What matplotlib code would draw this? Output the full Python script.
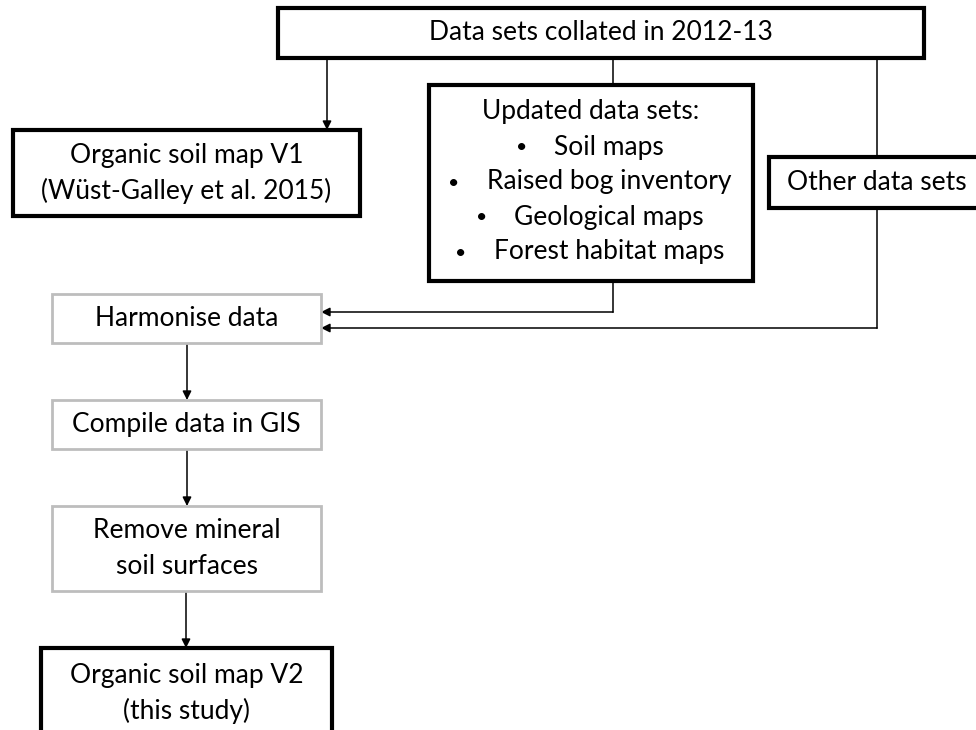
import matplotlib.pyplot as plt
from matplotlib.patches import Rectangle

plt.rcParams['font.family'] = ['Lato', 'DejaVu Sans']

# Тексты блоков схемы
top_label = ['Data sets collated in 2012-13']
v1_label = ['Organic soil map V1', '(Wüst-Galley et al. 2015)']
updated_title = 'Updated data sets:'
updated_items = ['Soil maps', 'Raised bog inventory', 'Geological maps', 'Forest habitat maps']
other_label = ['Other data sets']
harmonise_label = ['Harmonise data']
compile_label = ['Compile data in GIS']
remove_label = ['Remove mineral', 'soil surfaces']
v2_label = ['Organic soil map V2', '(this study)']

# Расположение блоков: (x0, y0, x1, y1) в пикселях, стиль
layout = {
    'top': (278, 8, 924, 58, 'bold'),
    'v1': (13, 130, 360, 216, 'bold'),
    'updated': (429, 85, 753, 281, 'bold'),
    'other': (769, 157, 985, 208, 'bold'),
    'harmonise': (52, 294, 321, 343, 'grey'),
    'compile': (52, 400, 321, 449, 'grey'),
    'remove': (52, 506, 321, 591, 'grey'),
    'v2': (41, 648, 332, 745, 'bold'),
}

fig = plt.figure(figsize=(9.76, 7.3), dpi=100)
ax = fig.add_axes([0, 0, 1, 1])
ax.set_xlim(0, 976)
ax.set_ylim(730, 0)
ax.axis('off')

FS = 19
LINE = 35


def draw_box(key, lines, text_y=None):
    x0, y0, x1, y1, style = layout[key]
    if style == 'bold':
        ec, lw = 'black', 3.0
    else:
        ec, lw = '#bdbdbd', 2.0
    ax.add_patch(Rectangle((x0, y0), x1 - x0, y1 - y0, facecolor='white',
                           edgecolor=ec, linewidth=lw, zorder=2))
    cx = (x0 + x1) / 2
    if text_y is None:
        text_y = (y0 + y1) / 2 - (len(lines) - 1) * LINE / 2
    for i, t in enumerate(lines):
        ax.text(cx, text_y + i * LINE, t, ha='center', va='center',
                fontsize=FS, color='black', zorder=3)
    return cx


def line(xs, ys, arrow=False):
    if arrow:
        ax.plot(xs[:-1], ys[:-1], color='black', lw=1.1, zorder=1)
        ax.annotate('', xy=(xs[-1], ys[-1]), xytext=(xs[-2], ys[-2]),
                    arrowprops=dict(arrowstyle='-|>', color='black', lw=1.1,
                                    mutation_scale=13, shrinkA=0, shrinkB=0),
                    zorder=1)
    else:
        ax.plot(xs, ys, color='black', lw=1.1, zorder=1)


# Соединения
line([327, 327], [58, 130], arrow=True)
line([613, 613], [58, 85])
line([877, 877], [58, 157])
line([613, 613, 321], [281, 312, 312], arrow=True)
line([877, 877, 321], [208, 328, 328], arrow=True)
line([187, 187], [343, 400], arrow=True)
line([187, 187], [449, 506], arrow=True)
line([186, 186], [591, 648], arrow=True)

draw_box('top', top_label)
draw_box('v1', v1_label)
cx_up = draw_box('updated', [updated_title], text_y=112)
draw_box('other', other_label)
draw_box('harmonise', harmonise_label)
draw_box('compile', compile_label)
draw_box('remove', remove_label)
draw_box('v2', v2_label, text_y=676)

# Пункты списка с маркерами
fig.canvas.draw()
renderer = fig.canvas.get_renderer()
inv = ax.transData.inverted()
for i, item in enumerate(updated_items):
    y = 112 + (i + 1) * LINE
    t = ax.text(cx_up + 18, y, item, ha='center', va='center',
                fontsize=FS, color='black', zorder=3)
    bb = t.get_window_extent(renderer)
    left = inv.transform((bb.x0, bb.y0))[0]
    ax.text(left - 33, y + 1, '•', ha='center', va='center',
            fontsize=14, color='black', zorder=3)

fig.savefig('out.png', dpi=100)
